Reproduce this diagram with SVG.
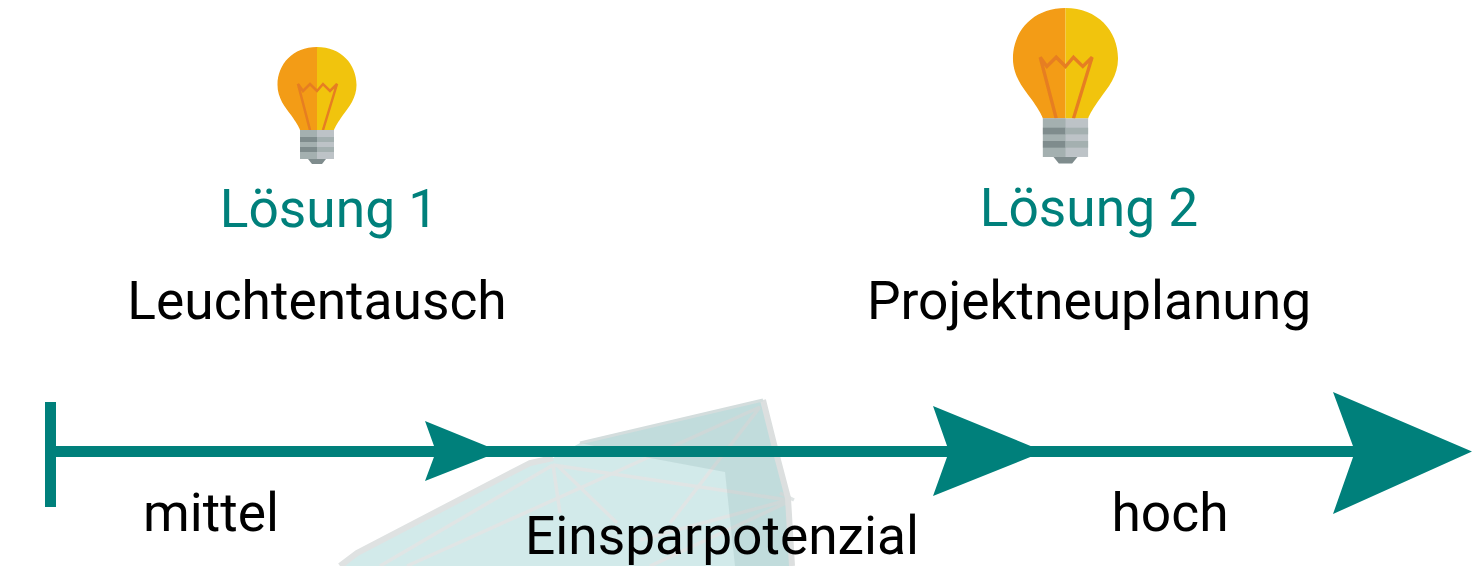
<svg xmlns="http://www.w3.org/2000/svg" width="1472" height="566" viewBox="0 0 1472 566">
<style>
text{font-family:Roboto,"Liberation Sans",sans-serif;font-size:53.3px;fill:#000}
.t{fill:#00807b}
.axis{fill:#00807b}
.e{fill:none;stroke:#e0e5e5;stroke-width:3.500}
.o{fill:#f39c12}.y{fill:#f1c40f}.f{fill:none;stroke:#e67e22;stroke-width:2.500}
.g1{fill:#a4b0b0}.g2{fill:#bdc3c7}.g3{fill:#7f8c8d}
</style>
<defs>
<filter id="soft" x="-10%" y="-10%" width="120%" height="120%"><feGaussianBlur stdDeviation="0.600"/></filter>
<g id="bulb">
<path class="o" d="M0 0C-24 0-39.500 17-39.500 38C-39.500 51-32 60-26 68C-21 75-18 80-17 83L0 83Z"/>
<path class="y" d="M0 0C24 0 39.500 17 39.500 38C39.500 51 32 60 26 68C21 75 18 80 17 83L0 83Z"/>
<path class="f" d="M-7 83L-19 37L-14 44L-7 37L0 44L6 37L13 44L20 37L6 83"/>
<rect class="g2" x="-17" y="83" width="34" height="29"/>
<rect class="g1" x="-17" y="83" width="17" height="29"/>
<rect class="g3" x="-17" y="90" width="17" height="5"/><rect class="g3" x="-17" y="100" width="17" height="5"/>
<rect class="g1" x="0" y="90" width="17" height="5"/><rect class="g1" x="0" y="100" width="17" height="5"/>
<path class="g3" d="M-9 112H9L5 117H-5Z"/>
</g>
</defs>
<rect width="1472" height="566" fill="#fff"/>
<g id="gem">
<path d="M340 566L357 553L530 463L553 458L580 443L763 400L788 498L792 566Z" fill="#d2eaea"/>
<path class="e" d="M553 465L788 500M553 465L560 513M557 465L617 523M760 407L407 566M553 465L380 566M760 407L670 523M788 500L640 540M788 502L650 566M780 493L794 500"/>
<path d="M580 443L763 400L778 460L788 498L792 566H735L725 472L650 458Z" fill="#003c3c" fill-opacity="0.080"/>
<path d="M340 566L357 553L530 463L553 458" fill="none" stroke="#dfe2e2" stroke-width="6"/>
<path d="M763 400L778 460L788 498L792 566" fill="none" stroke="#dcdfdf" stroke-width="6"/>
<path d="M580 443L763 400" fill="none" stroke="#d4dddd" stroke-width="3"/>
</g>
<g id="connectors">
<rect class="axis" x="45" y="402" width="11" height="105"/>
<rect class="axis" x="50" y="446" width="1370" height="11"/>
<path class="axis" d="M425 421L500 451.500L425 481L436 451.500Z"/>
<path class="axis" d="M933 406L1044 451.500L933 496L949 451.500Z"/>
<path class="axis" d="M1333 392L1472 451.500L1333 514L1355 451.500Z"/>
</g>
<g id="loesung1">
<use href="#bulb" x="317" y="47" filter="url(#soft)"/>
<text class="t" x="329" y="227" text-anchor="middle">Lösung 1</text>
<text x="317" y="319" text-anchor="middle">Leuchtentausch</text>
</g>
<g id="loesung2">
<g filter="url(#soft)"><use href="#bulb" transform="translate(1065.500 8) scale(1.33)"/></g>
<text class="t" x="1089" y="226" text-anchor="middle">Lösung 2</text>
<text x="1089" y="319" text-anchor="middle">Projektneuplanung</text>
</g>
<g id="labels">
<text x="211" y="531" text-anchor="middle">mittel</text>
<text x="722" y="554" text-anchor="middle">Einsparpotenzial</text>
<text x="1170" y="531" text-anchor="middle">hoch</text>
</g>
</svg>
